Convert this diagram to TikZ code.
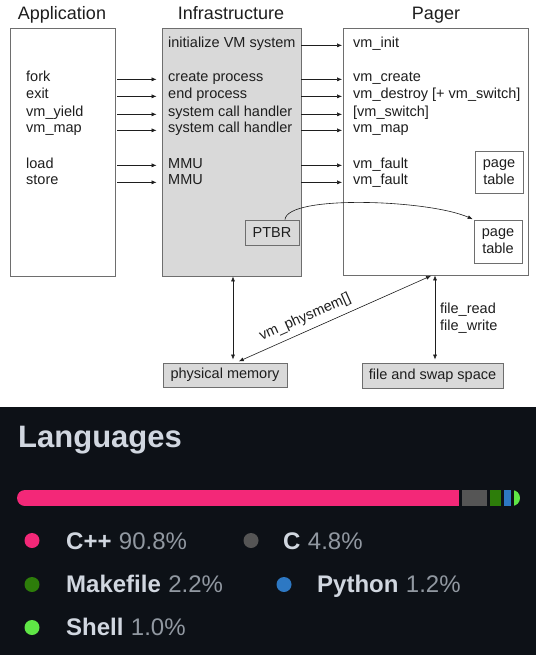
\documentclass[tikz,border=0pt]{standalone}
\usepackage{fontspec}
\setmainfont{Liberation Sans}
\usetikzlibrary{arrows.meta, positioning, calc}
\definecolor{box_gray}{RGB}{217, 217, 217}
\definecolor{edge_gray}{RGB}{110, 110, 110}
\definecolor{ink}{RGB}{30, 30, 30}
\definecolor{gh_bg}{RGB}{13, 17, 23}
\definecolor{gh_text}{RGB}{209, 215, 224}
\definecolor{gh_muted}{RGB}{145, 152, 161}
\definecolor{lang_cpp}{RGB}{243, 40, 120}
\definecolor{lang_c}{RGB}{85, 85, 85}
\definecolor{lang_make}{RGB}{45, 125, 10}
\definecolor{lang_py}{RGB}{45, 120, 195}
\definecolor{lang_shell}{RGB}{95, 230, 70}

\begin{document}
\begin{tikzpicture}[
    x=1pt, y=-1pt,
    title/.style={
        font=\fontsize{18}{21}\selectfont,
        text=ink,
        inner sep=0,
        anchor=base
    },
    label/.style={
        font=\fontsize{14.5}{17}\selectfont,
        text=ink,
        inner sep=0,
        anchor=base west
    },
    box/.style={
        rectangle,
        draw=edge_gray,
        fill=#1,
        line width=0.8pt,
        inner sep=0,
        align=center,
        text=ink,
        font=\fontsize{14.5}{17}\selectfont
    },
    box/.default=white,
    arrow/.style={
        -{Latex[length=5pt,width=4pt]},
        ink,
        line width=0.6pt
    },
    both/.style={
        {Latex[length=5pt,width=4pt]}-{Latex[length=5pt,width=4pt]},
        ink,
        line width=0.6pt
    },
    langname/.style={
        font=\fontsize{24}{28}\selectfont\bfseries,
        text=gh_text,
        inner sep=0,
        anchor=base west
    },
    langpct/.style={
        font=\fontsize{24}{28}\selectfont,
        text=gh_muted,
        inner sep=0,
        anchor=base west
    },
    dot/.style={
        circle,
        fill=#1,
        inner sep=0,
        minimum size=15pt
    }
]
\useasboundingbox (0,0) rectangle (538,655);
\fill[white] (0,0) rectangle (538,655);

% Define column positions
\def\colA{26}    % Application column
\def\colB{168}   % Infrastructure column
\def\colC{353}   % Pager column

% Big boxes
\node[box, minimum width=105pt, minimum height=248pt] (app) at (62.5,152) {};
\node[box=box_gray, minimum width=139pt, minimum height=248pt] (infra) at (231.5,152) {};
\node[box, minimum width=184.5pt, minimum height=247pt] (pager) at (435.75,151.5) {};

% Column titles
\node[title] (t_app) at (62,20) {Application};
\node[title] (t_infra) at (231,20) {Infrastructure};
\node[title] (t_pager) at (436,20) {Pager};

% Application calls
\node[label] (fork) at (\colA,82) {fork};
\node[label] (exit) at (\colA,99) {exit};
\node[label] (yield) at (\colA,117) {vm\_yield};
\node[label] (map) at (\colA,133) {vm\_map};
\node[label] (load) at (\colA,168) {load};
\node[label] (store) at (\colA,185) {store};

% Infrastructure rows
\node[label] (init) at (\colB,48) {initialize VM system};
\node[label] (crp) at (\colB,82) {create process};
\node[label] (endp) at (\colB,99) {end process};
\node[label] (sysa) at (\colB,117) {system call handler};
\node[label] (sysb) at (\colB,133) {system call handler};
\node[label] (mmua) at (\colB,168) {MMU};
\node[label] (mmub) at (\colB,185) {MMU};

% Pager rows
\node[label] (vminit) at (\colC,48) {vm\_init};
\node[label] (vmcreate) at (\colC,82) {vm\_create};
\node[label] (vmdestroy) at (\colC,99) {vm\_destroy [+ vm\_switch]};
\node[label] (vmswitch) at (\colC,117) {[vm\_switch]};
\node[label] (vmmap) at (\colC,133) {vm\_map};
\node[label] (faulta) at (\colC,168) {vm\_fault};
\node[label] (faultb) at (\colC,185) {vm\_fault};

% Small boxes
\node[box, minimum width=48pt, minimum height=42pt] (pt_a) at (499,172) {page\\table};
\node[box, minimum width=48pt, minimum height=43pt] (pt_b) at (498,241.5) {page\\table};
\node[box=box_gray, minimum width=54pt, minimum height=25pt] (ptbr) at (272,232.5) {PTBR};
\node[box=box_gray, minimum width=124pt, minimum height=24pt] (phys) at (225,375) {physical memory};
\node[box=box_gray, minimum width=141pt, minimum height=25pt] (swap) at (432.5,375.5) {file and swap space};

% Calls into the infrastructure
\foreach \a/\b in {fork/crp, exit/endp, yield/sysa, map/sysb, load/mmua, store/mmub} {
    \draw[arrow, shorten <=2pt, shorten >=5pt] (app.east |- \a.mid) -- (infra.west |- \b.mid);
}

% Calls into the pager
\foreach \a/\b in {init/vminit, crp/vmcreate, endp/vmdestroy, sysa/vmswitch, sysb/vmmap, mmua/faulta, mmub/faultb} {
    \draw[arrow, shorten >=1pt] (infra.east |- \a.mid) -- (pager.west |- \b.mid);
}

% PTBR points at the page table
\draw[arrow, shorten >=1pt] ([xshift=13pt]ptbr.north) .. controls +(2,-25) and +(-45,-20) .. (pt_b.north west);

% Memory and storage links
\coordinate (mem_x) at (233,0);
\coordinate (swap_x) at (435,0);
\coordinate (diag_a) at (236,0);
\coordinate (diag_b) at (432,0);
\draw[both, shorten >=3pt] (infra.south -| mem_x) -- (phys.north -| mem_x);
\draw[both, shorten >=3pt] (pager.south -| swap_x) -- (swap.north -| swap_x);
\draw[both, shorten <=3pt, shorten >=1pt] (phys.north -| diag_a) -- (pager.south -| diag_b)
    node[pos=0.38, sloped, above=6pt, font=\fontsize{14.5}{17}\selectfont, text=ink, inner sep=0] (physmem) {vm\_physmem[]};
\node[label, align=left, anchor=north west] (fileio) at (440,303) {file\_read\\file\_write};

% Languages panel
\fill[gh_bg] (0,407) rectangle (536,655);
\node[font=\fontsize{31}{36}\selectfont\bfseries, text=gh_text, inner sep=0, anchor=base west] (lang_title) at (18,447) {Languages};

% Usage bar
\begin{scope}
    \clip[rounded corners=8pt] (17,490) rectangle (520,506);
    \fill[lang_cpp] (17,490) rectangle (459,506);
    \fill[lang_c] (462,490) rectangle (487,506);
    \fill[lang_make] (490,490) rectangle (501,506);
    \fill[lang_py] (504,490) rectangle (511,506);
    \fill[lang_shell] (514,490) rectangle (520,506);
\end{scope}

% Legend
\node[dot=lang_cpp] (cpp_dot) at (32,540.5) {};
\node[langname] (cpp_name) at (66,549) {C++};
\node[langpct, right=7pt of cpp_name.base east, anchor=base west] (cpp_pct) {90.8\%};

\node[dot=lang_c] (c_dot) at (251,540.5) {};
\node[langname] (c_name) at (283,549) {C};
\node[langpct, right=7pt of c_name.base east, anchor=base west] (c_pct) {4.8\%};

\node[dot=lang_make] (make_dot) at (32,584.5) {};
\node[langname] (make_name) at (66,592) {Makefile};
\node[langpct, right=7pt of make_name.base east, anchor=base west] (make_pct) {2.2\%};

\node[dot=lang_py] (py_dot) at (284,584.5) {};
\node[langname] (py_name) at (317,592) {Python};
\node[langpct, right=7pt of py_name.base east, anchor=base west] (py_pct) {1.2\%};

\node[dot=lang_shell] (shell_dot) at (32,627.5) {};
\node[langname] (shell_name) at (66,635) {Shell};
\node[langpct, right=7pt of shell_name.base east, anchor=base west] (shell_pct) {1.0\%};

\end{tikzpicture}
\end{document}
